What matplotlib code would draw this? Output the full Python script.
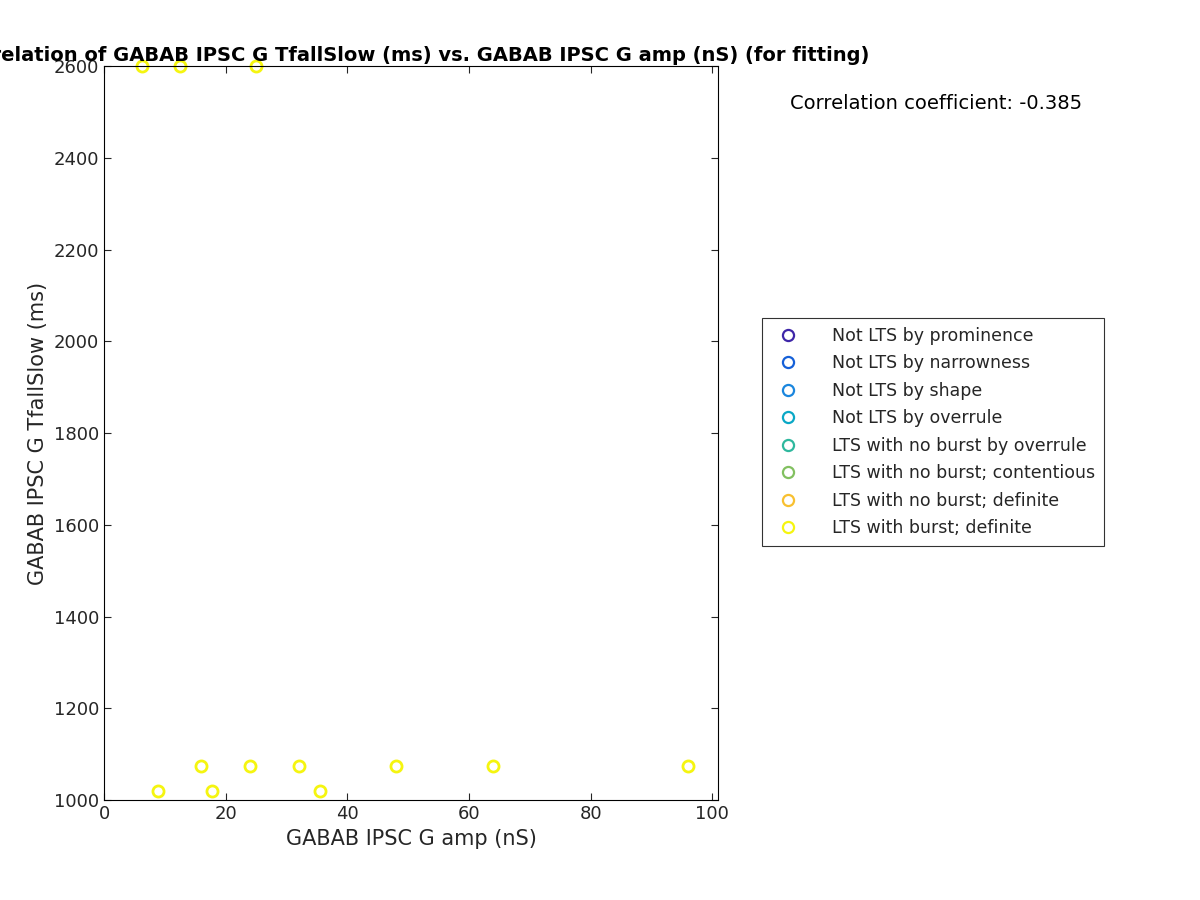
import matplotlib
matplotlib.use("Agg")
import matplotlib.pyplot as plt

# data
amp = [6.3, 12.5, 25.0, 8.8, 16.0, 17.7, 24.0, 32.0, 35.5, 48.0, 64.0, 96.0]
tfall = [2600, 2600, 2600, 1020, 1075, 1020, 1075, 1075, 1020, 1075, 1075, 1075]

classes = ["Not LTS by prominence", "Not LTS by narrowness", "Not LTS by shape",
           "Not LTS by overrule", "LTS with no burst by overrule",
           "LTS with no burst; contentious", "LTS with no burst; definite",
           "LTS with burst; definite"]
colors = ["#3e26a8", "#1560d8", "#1a86de", "#0aa8c6", "#2fb89e",
          "#82c060", "#f8c030", "#f5f510"]

plt.rcParams['text.color'] = '#262626'
plt.rcParams['xtick.color'] = '#262626'
plt.rcParams['ytick.color'] = '#262626'
plt.rcParams['axes.labelcolor'] = '#262626'

fig = plt.figure(figsize=(12, 9), dpi=100)
ax = fig.add_axes([0.0867, 0.111, 0.512, 0.8156])

for name, c in zip(classes, colors):
    ax.plot([], [], 'o', mfc='none', mec=c, mew=1.6, ms=8, label=name)
ax.plot(amp, tfall, 'o', mfc='none', mec=colors[-1], mew=2, ms=8, clip_on=False)

ax.set_xlim(0, 101)
ax.set_ylim(1000, 2600)
ax.tick_params(direction='in', top=True, right=True, labelsize=13, length=5)
ax.set_xlabel("GABAB IPSC G amp (nS)", fontsize=15)
ax.set_ylabel("GABAB IPSC G TfallSlow (ms)", fontsize=15)
ax.set_title("Correlation of GABAB IPSC G TfallSlow (ms) vs. GABAB IPSC G amp (nS) (for fitting)",
             fontsize=14, fontweight='bold', pad=4, color='black')

fig.text(0.78, 0.885, "Correlation coefficient: -0.385", fontsize=14, ha='center', va='center',
         color='black')

leg = fig.legend(loc='center left', bbox_to_anchor=(0.628, 0.52), fontsize=12.5,
                 frameon=True, fancybox=False, edgecolor='black', borderpad=0.5,
                 labelspacing=0.55, handletextpad=1.5)
leg.get_frame().set_linewidth(0.8)

fig.savefig("out.png")
